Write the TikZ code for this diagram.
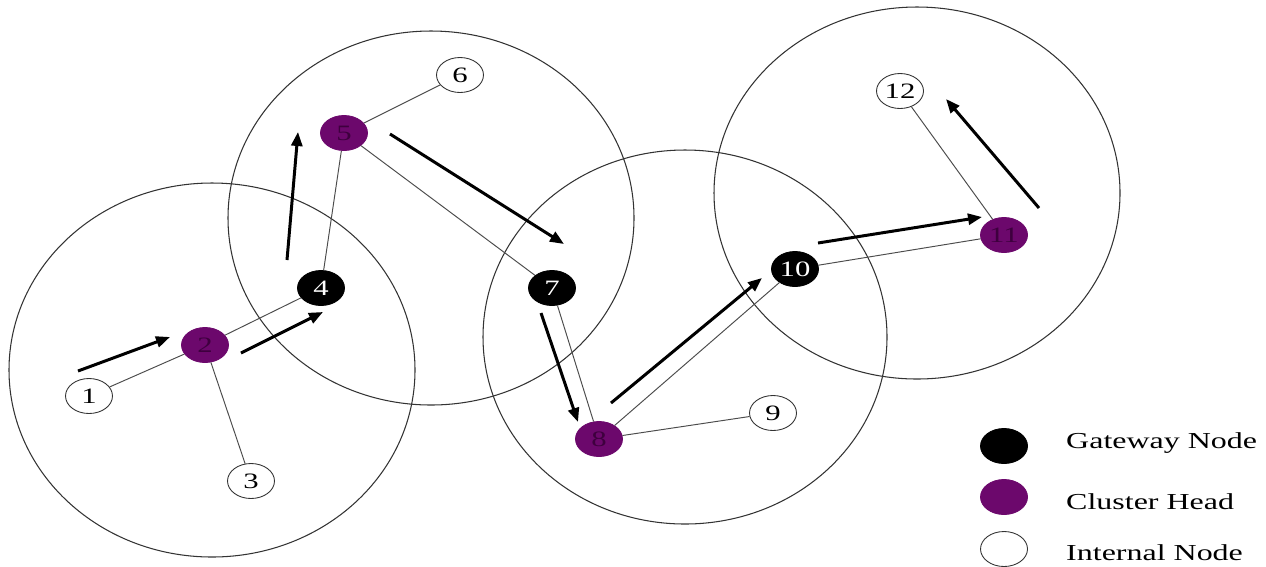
\documentclass[tikz,border=0pt]{standalone}
\usepackage{fontspec}
\setmainfont{Liberation Serif}[FakeStretch=1.4]
\usepackage{tikz}
\usetikzlibrary{arrows.meta,shapes.geometric}
\definecolor{chpurple}{RGB}{108,8,108}
\definecolor{chtext}{RGB}{62,0,62}

\begin{document}
\begin{tikzpicture}[x=0.02cm,y=-0.02cm,
    sensor/.style={
        ellipse,
        minimum width=0.94cm,
        minimum height=0.7cm,
        inner sep=0pt,
        line width=0.5pt,
        font=\fontsize{12.5}{12.5}\selectfont
    },
    internal/.style={sensor,draw=black!80,fill=white},
    gateway/.style={sensor,draw=black,fill=black,text=white},
    head/.style={sensor,draw=chpurple,fill=chpurple,text=chtext},
    clusterrange/.style={black!80,line width=0.6pt},
    link/.style={black!70,line width=0.55pt},
    flow/.style={
        -{Triangle[length=0.28cm,width=0.22cm]},
        black,
        line width=1.7pt
    },
    legtext/.style={anchor=west,font=\fontsize{13}{13}\selectfont}
]
\useasboundingbox (0,0) rectangle (1266,566);

% cluster ranges
\draw[clusterrange] (212,370) ellipse [x radius=203, y radius=187];
\draw[clusterrange] (431,218) ellipse [x radius=203, y radius=187];
\draw[clusterrange] (685,337) ellipse [x radius=202, y radius=187];
\draw[clusterrange] (917,193) ellipse [x radius=203, y radius=186];

% sensor nodes
\node[internal] (n1)  at (89,396)   {1};
\node[head]     (n2)  at (205,345)  {2};
\node[internal] (n3)  at (251,481)  {3};
\node[gateway]  (n4)  at (321,288)  {4};
\node[head]     (n5)  at (344,133)  {5};
\node[internal] (n6)  at (460,75)   {6};
\node[gateway]  (n7)  at (552,288)  {7};
\node[head]     (n8)  at (599,439)  {8};
\node[internal] (n9)  at (773,413)  {9};
\node[gateway]  (n10) at (795,269)  {10};
\node[head]     (n11) at (1004,235) {11};
\node[internal] (n12) at (900,91)   {12};

% links
\foreach \a/\b in {n1/n2,n2/n3,n2/n4,n4/n5,n5/n6,n5/n7,n7/n8,n8/n9,n8/n10,n10/n11,n11/n12}{
    \draw[link] (\a) -- (\b);
}

% data flow
\coordinate (f1s) at (78,371);   \coordinate (f1e) at (170,337);
\coordinate (f2s) at (241,353);  \coordinate (f2e) at (323,312);
\coordinate (f3s) at (287,260);  \coordinate (f3e) at (298,132);
\coordinate (f4s) at (390,134);  \coordinate (f4e) at (564,244);
\coordinate (f5s) at (541,313);  \coordinate (f5e) at (578,422);
\coordinate (f6s) at (611,403);  \coordinate (f6e) at (762,278);
\coordinate (f7s) at (818,243);  \coordinate (f7e) at (982,217);
\coordinate (f8s) at (1039,208); \coordinate (f8e) at (946,99);

\foreach \i in {1,...,8}{
    \draw[flow] (f\i s) -- (f\i e);
}

% legend
\node[gateway]  (lgw) at (1004,446) {};
\node[head]     (lch) at (1004,497) {};
\node[internal] (lin) at (1004,549) {};
\node[legtext] at (1060,443) {Gateway Node};
\node[legtext] at (1060,502) {Cluster Head};
\node[legtext] at (1060,553) {Internal Node};
\end{tikzpicture}
\end{document}
